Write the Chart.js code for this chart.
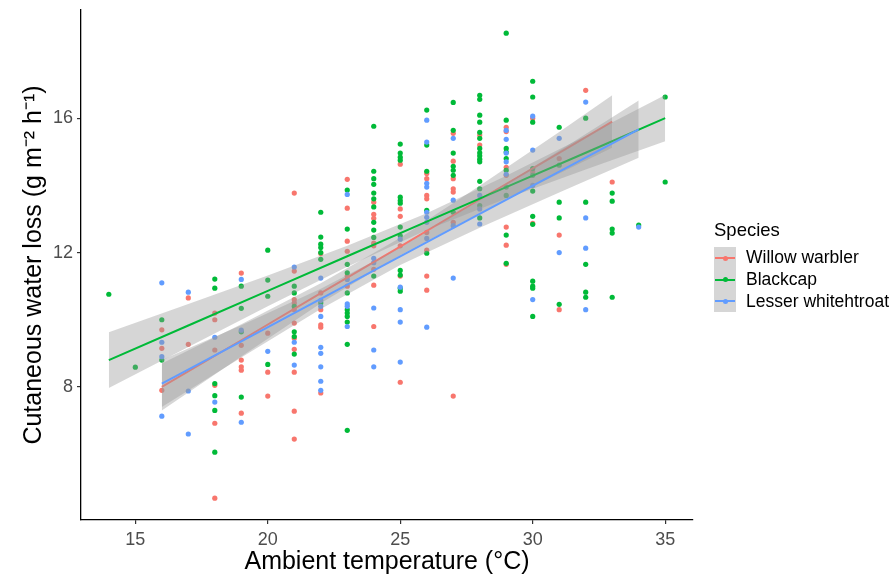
<!DOCTYPE html>
<html>
<head>
<meta charset="utf-8">
<script src="https://cdn.jsdelivr.net/npm/chart.js@4.4.0/dist/chart.umd.min.js"></script>
<style>
  body { margin: 0; background: #fff; }
  #wrap { position: relative; width: 893px; height: 577px; }
  #legend { position: absolute; left: 714px; top: 218px; font-family: 'Liberation Sans', Arial, sans-serif; color: #000; }
  .legend-title { font-size: 18.5px; height: 24px; line-height: 24px; margin-bottom: 5px; }
  .legend-item { display: flex; align-items: center; height: 21.7px; }
  .key { position: relative; width: 22px; height: 21.7px; background: #d6d6d6; }
  .key .ln { position: absolute; left: 1px; right: 1px; top: 10px; height: 2px; }
  .key .dot { position: absolute; left: 8.5px; top: 8.5px; width: 5px; height: 5px; border-radius: 50%; }
  .legend-item span { font-size: 17.5px; margin-left: 10px; white-space: nowrap; }
</style>
</head>
<body>
<div id="wrap">
  <canvas id="chart" width="893" height="577"></canvas>
  <div id="legend"></div>
</div>
<script>
// Temperatures (°C) at which birds were measured
const temps = [14, 15, 16, 17, 18, 19, 20, 21, 22, 23, 24, 25, 26, 27, 28, 29, 30, 31, 32, 33, 34, 35];

// Cutaneous water loss values per temperature, one list per species
const willowWarbler = [
    [], [],
    [9.7, 9.15, 7.9],
    [10.65, 9.27],
    [10.2, 10.0, 9.1, 8.05, 6.92, 4.69],
    [11.39, 9.24, 8.8, 8.6, 8.5, 7.22],
    [9.6, 8.44, 7.73],
    [13.77, 11.45, 10.6, 10.5, 10.3, 9.9, 9.45, 9.12, 8.44, 7.28, 6.45],
    [11.97, 10.8, 10.3, 9.85, 9.78, 7.82],
    [14.18, 13.32, 12.34, 12.04, 11.3, 11.0],
    [13.5, 13.14, 13.02, 12.28, 12.2, 11.5, 11.03, 9.8],
    [14.63, 13.3, 13.08, 12.2, 11.3, 8.14],
    [14.35, 14.2, 13.7, 13.6, 12.6, 12.07, 11.3, 10.88],
    [15.55, 14.72, 14.2, 13.9, 13.8, 12.9, 7.73],
    [15.5, 15.2],
    [15.73, 15.6, 14.54, 14.3, 12.76, 12.22, 11.65],
    [16.0, 14.4, 12.87],
    [14.8, 12.52, 10.3],
    [16.83],
    [14.1],
    [], []
];
const blackcap = [
    [10.76],
    [8.59],
    [10.0, 8.8],
    [],
    [11.21, 10.94, 8.1, 7.74, 7.3, 6.06],
    [11.0, 10.34, 9.64, 7.7],
    [12.07, 11.18, 10.7, 8.67],
    [11.0, 10.8, 10.4, 9.64, 9.5, 8.98],
    [13.2, 12.46, 12.25, 12.15, 12.0, 11.8, 10.5],
    [13.86, 12.7, 11.65, 11.4, 10.8, 10.3, 10.2, 10.1, 9.93, 9.27, 6.71],
    [15.76, 14.42, 14.2, 14.03, 13.77, 13.6, 13.36, 12.9, 12.67, 12.45, 11.3],
    [15.23, 14.96, 14.84, 14.75, 13.65, 13.55, 13.47, 12.76, 12.5, 11.47, 11.33, 10.94, 10.85],
    [16.24, 15.2, 14.42, 13.26, 11.98],
    [16.47, 15.64, 14.96, 14.57, 14.45, 14.3, 13.2],
    [16.68, 16.56, 16.09, 15.88, 15.58, 15.4, 15.1, 14.97, 14.88, 14.78, 14.7, 14.12, 13.9, 13.4, 13.03],
    [18.53, 15.94, 15.1, 14.99, 14.8, 14.45, 13.95, 13.7, 12.52, 11.68],
    [17.1, 16.63, 15.88, 14.5, 14.3, 13.83, 13.08, 12.84, 11.15, 11.0, 10.94, 10.1],
    [15.73, 14.6, 13.5, 13.03, 10.46],
    [16.0, 13.5, 11.65, 10.82, 10.67],
    [13.77, 13.53, 12.7, 12.58, 10.67],
    [12.82],
    [16.63, 14.1]
];
const lesserWhitethroat = [
    [], [],
    [11.1, 9.33, 8.9, 7.13],
    [10.82, 7.88, 6.6],
    [9.48, 7.55],
    [11.2, 9.69, 6.95],
    [9.06],
    [11.57, 9.33, 8.65],
    [11.24, 10.58, 10.4, 10.1, 9.18, 9.0, 8.6, 8.17, 7.9],
    [13.73, 11.2, 10.47, 10.4, 9.8],
    [11.83, 11.7, 10.35, 9.1, 8.6],
    [12.4, 10.97, 10.3, 9.93, 8.74],
    [15.94, 15.29, 14.06, 13.95, 13.2, 13.05, 12.9, 12.42, 9.78],
    [15.4, 13.56, 12.8, 11.24],
    [13.7, 13.3, 12.85],
    [15.64, 15.37, 14.96, 14.7, 14.33],
    [16.06, 15.05, 14.0, 10.6],
    [15.4, 12.0],
    [16.48, 13.03, 12.13, 10.3],
    [],
    [12.76],
    []
];

// Fitted lines and confidence bands
const willowFitX  = [16, 19, 22, 25, 28, 31, 33];
const willowFit   = [8.00, 9.39, 10.79, 12.18, 13.58, 14.97, 15.90];
const willowUpper = [8.70, 9.87, 11.09, 12.44, 13.99, 15.59, 16.68];
const willowLower = [7.30, 8.91, 10.49, 11.92, 13.17, 14.35, 15.12];

const blackcapFitX  = [14, 17, 20, 23, 26, 29, 32, 35];
const blackcapFit   = [8.80, 9.83, 10.86, 11.89, 12.92, 13.95, 14.97, 16.00];
const blackcapUpper = [9.63, 10.47, 11.32, 12.20, 13.17, 14.29, 15.47, 16.69];
const blackcapLower = [7.97, 9.19, 10.40, 11.58, 12.67, 13.61, 14.47, 15.31];

const whitethroatFitX  = [16, 19, 22, 25, 28, 31, 34];
const whitethroatFit   = [8.10, 9.36, 10.62, 11.89, 13.15, 14.41, 15.67];
const whitethroatUpper = [8.80, 9.84, 10.92, 12.15, 13.56, 15.03, 16.53];
const whitethroatLower = [7.40, 8.88, 10.32, 11.63, 12.74, 13.79, 14.82];

const xTicks = [15, 20, 25, 30, 35];
const yTicks = [8, 12, 16];

const species = ['Willow warbler', 'Blackcap', 'Lesser whitehtroat'];
const colors = ['#F8766D', '#00BA38', '#619CFF'];
const bandColor = 'rgba(153, 153, 153, 0.4)';
const font = "'Liberation Sans', Arial, sans-serif";

function toPoints(groups) {
    const pts = [];
    groups.forEach((vals, i) => vals.forEach(v => pts.push({ x: temps[i], y: v })));
    return pts;
}

function toXY(xs, ys) {
    return xs.map((x, i) => ({ x: x, y: ys[i] }));
}

function bandLower(xs, ys, order) {
    return { data: toXY(xs, ys), borderColor: 'transparent', borderWidth: 0, pointRadius: 0, fill: false, order: order };
}
function bandUpper(xs, ys, order) {
    return { data: toXY(xs, ys), borderColor: 'transparent', borderWidth: 0, pointRadius: 0,
             backgroundColor: bandColor, fill: '-1', order: order };
}
function fitLine(xs, ys, color, order) {
    return { data: toXY(xs, ys), borderColor: color, borderWidth: 2, pointRadius: 0, fill: false, order: order };
}
function pointSet(groups, color, order) {
    return { data: toPoints(groups), showLine: false, pointRadius: 2.6, pointHoverRadius: 2.6,
             pointBorderWidth: 0, backgroundColor: color, borderColor: color, fill: false, order: order };
}

const ctx = document.getElementById('chart').getContext('2d');
const chart = new Chart(ctx, {
    type: 'line',
    data: {
        datasets: [
            bandLower(willowFitX, willowLower, 9),
            bandUpper(willowFitX, willowUpper, 8),
            fitLine(willowFitX, willowFit, colors[0], 7),
            bandLower(blackcapFitX, blackcapLower, 6),
            bandUpper(blackcapFitX, blackcapUpper, 5),
            fitLine(blackcapFitX, blackcapFit, colors[1], 4),
            bandLower(whitethroatFitX, whitethroatLower, 3),
            bandUpper(whitethroatFitX, whitethroatUpper, 2),
            fitLine(whitethroatFitX, whitethroatFit, colors[2], 1),
            pointSet(lesserWhitethroat, colors[2], 10),
            pointSet(blackcap, colors[1], 11),
            pointSet(willowWarbler, colors[0], 12)
        ]
    },
    options: {
        responsive: false,
        devicePixelRatio: 1,
        animation: false,
        layout: { padding: { left: 0, top: 10, right: 200, bottom: 0 } },
        plugins: {
            legend: { display: false },
            tooltip: { enabled: false }
        },
        scales: {
            x: {
                type: 'linear',
                min: 12.95,
                max: 36.05,
                afterBuildTicks: scale => { scale.ticks = xTicks.map(v => ({ value: v })); },
                afterFit: scale => { scale.height = 57; },
                grid: { drawOnChartArea: false, drawTicks: true, tickLength: 4, color: '#333', lineWidth: 1.2 },
                border: { display: true, color: '#000', width: 1.3 },
                ticks: { color: '#4D4D4D', font: { family: font, size: 18 }, padding: 5, maxRotation: 0 },
                title: { display: true, text: 'Ambient temperature (°C)', color: '#000',
                         font: { family: font, size: 25 }, padding: { top: 0, bottom: 0 } }
            },
            y: {
                type: 'linear',
                min: 4.04,
                max: 19.22,
                afterBuildTicks: scale => { scale.ticks = yTicks.map(v => ({ value: v })); },
                afterFit: scale => { scale.width = 81; scale.paddingTop = 0; scale.paddingBottom = 0; },
                grid: { drawOnChartArea: false, drawTicks: true, tickLength: 4, color: '#333', lineWidth: 1.2 },
                border: { display: true, color: '#000', width: 1.3 },
                ticks: { color: '#4D4D4D', font: { family: font, size: 18 }, padding: 4 },
                title: { display: true, text: 'Cutaneous water loss (g m\u207B\u00B2 h\u207B\u00B9)', color: '#000',
                         font: { family: font, size: 25 }, padding: { top: 19, bottom: 0 } }
            }
        }
    }
});

// Legend in ggplot style: grey band key with line and dot
const legend = document.getElementById('legend');
legend.innerHTML = '<div class="legend-title">Species</div>' + species.map((name, i) => `
    <div class="legend-item">
        <div class="key"><div class="ln" style="background:${colors[i]}"></div><div class="dot" style="background:${colors[i]}"></div></div>
        <span>${name}</span>
    </div>`).join('');
</script>
</body>
</html>
